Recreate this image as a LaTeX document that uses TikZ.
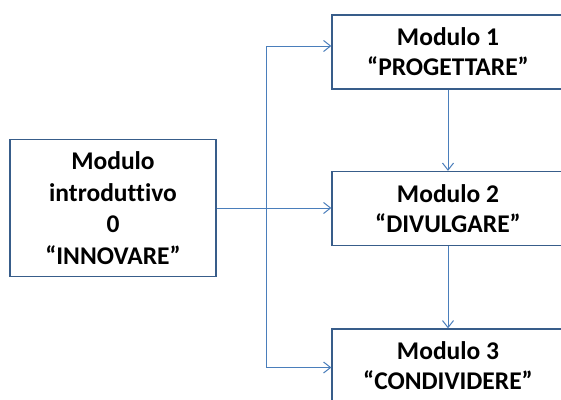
\documentclass[tikz,border=0pt]{standalone}
\usepackage{fontspec}
\setmainfont{Carlito}[Ligatures=NoCommon]
\usetikzlibrary{arrows.meta,calc}
\definecolor{boxline}{HTML}{385D8A}
\definecolor{arrline}{HTML}{4A7EBB}
\begin{document}
\begin{tikzpicture}[x=1pt,y=-1pt,
  modbox/.style={draw=boxline,line width=1.3pt,fill=white,minimum width=232pt,minimum height=74pt,
    inner sep=0pt,align=center,font=\fontsize{25.5}{30}\selectfont\bfseries},
  conn/.style={draw=arrline,line width=1pt,-{Straight Barb[length=7pt,width=11pt,line width=1pt]}}]
\useasboundingbox (0,0) rectangle (561,399);
\clip (0,0) rectangle (561,399);
\fill[white] (0,0) rectangle (561,399);
\node[modbox,minimum width=206pt,minimum height=137pt,font=\fontsize{25.5}{31.5}\selectfont\bfseries] (b0) at (113,208) {Modulo\\introduttivo\\0\\“INNOVARE”};
\node[modbox] (b1) at (448,52) {Modulo 1\\“PROGETTARE”};
\node[modbox] (b2) at (448,208.5) {Modulo 2\\“DIVULGARE”};
\node[modbox] (b3) at (448,366) {Modulo 3\\“CONDIVIDERE”};
\coordinate (j) at (266,208);
\draw[conn] (b0.east |- j) -- (b2.west |- j);
\draw[conn] (j) |- ([yshift=6pt]b1.west);
\draw[conn] (j) |- ([yshift=-1.5pt]b3.west);
\draw[conn] (b1.south) -- (b2.north);
\draw[conn] (b2.south) -- (b3.north);
\end{tikzpicture}
\end{document}
